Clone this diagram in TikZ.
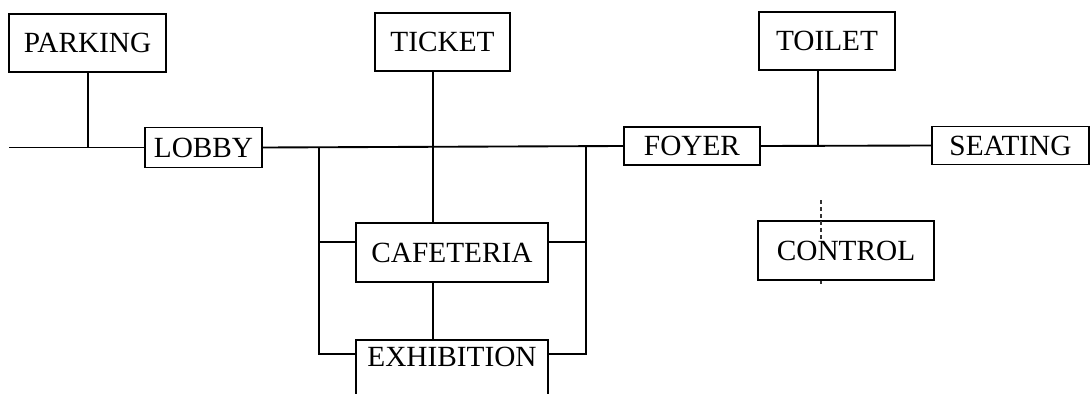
\documentclass[tikz,border=0pt]{standalone}
\usepackage{fontspec}
\setmainfont{Liberation Serif}
\begin{document}
\begin{tikzpicture}[x=0.03cm,y=-0.03cm,
  box/.style={draw, line width=1.6pt, inner sep=0pt, font=\fontsize{25}{29}\selectfont, align=center},
  wire/.style={line width=1.6pt},
  faint/.style={line width=1pt, dashed, black!80}]
\useasboundingbox (0,0) rectangle (1090,394);
\clip (0,0) rectangle (1090,394);
\fill[white] (0,0) rectangle (1090,394);
% boxes
\node (parking) [box, minimum width=4.71cm, minimum height=1.74cm] at (87.5,43) {PARKING};
\node (lobby) [box, minimum width=3.51cm, minimum height=1.2cm] at (203.5,147.5) {LOBBY};
\node (ticket) [box, minimum width=4.05cm, minimum height=1.74cm] at (442.5,42) {TICKET};
\node (cafe) [box, minimum width=5.76cm, minimum height=1.77cm] at (452,252.5) {CAFETERIA};
\node (exh) [box, anchor=north, minimum width=5.76cm, text height=0.8cm, text depth=1.4cm] at (452,339) {EXHIBITION};
\node (foyer) [box, minimum width=4.08cm, minimum height=1.12cm] at (692,146) {FOYER};
\node (seating) [box, minimum width=4.71cm, minimum height=1.14cm] at (1010.5,145.5) {SEATING};
\node (toilet) [box, minimum width=4.08cm, minimum height=1.74cm] at (827,41) {TOILET};
\node (control) [box, minimum width=5.28cm, minimum height=1.77cm] at (846,250.5) {CONTROL};
% coordinates
\coordinate (start) at (9,147.5);
\coordinate (pj) at (88,147.5);
\coordinate (tx) at (433,147);
\coordinate (lj) at (319,147);
\coordinate (rj) at (586,147);
\coordinate (tj) at (818,146);
\coordinate (lc) at (319,242);
\coordinate (rc) at (586,242);
\coordinate (lb) at (319,354);
\coordinate (rb) at (586,354);
\coordinate (cx) at (821,200);
% connectors
\draw[wire] (start) -- (lobby.west);
\draw[wire] (parking.south -| pj) -- (pj);
\draw[wire] (lobby.east) -- (foyer.west);
\draw[wire] (tx |- ticket.south) -- (tx |- cafe.north);
\draw[wire] (tx |- cafe.south) -- (tx |- exh.north);
\draw[wire] (lj) -- (lb) -- (lb -| exh.west);
\draw[wire] (lc) -- (lc -| cafe.west);
\draw[wire] (rj) -- (rb) -- (rb -| exh.east);
\draw[wire] (rc) -- (rc -| cafe.east);
\draw[wire] (foyer.east) -- (seating.west);
\draw[wire] (tj |- toilet.south) -- (tj);
\draw[faint] (cx) -- (821,240);
\draw[faint] (cx |- control.south) -- ++(0,7);
\end{tikzpicture}
\end{document}
